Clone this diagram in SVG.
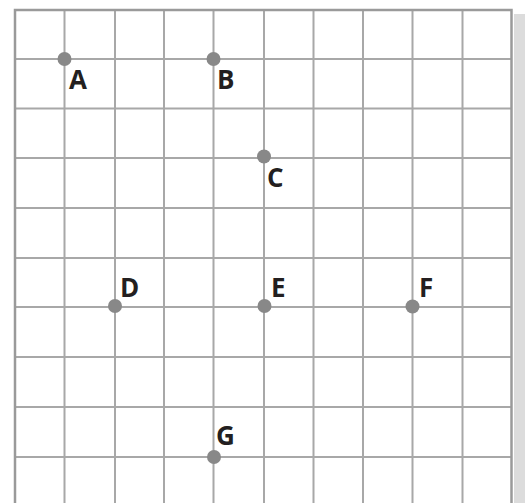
<svg xmlns="http://www.w3.org/2000/svg" width="525" height="503" viewBox="0 0 525 503">
<style>
.g{stroke:#a8a8a8;stroke-width:2;fill:none}
.b{stroke:#9a9a9a;stroke-width:2.5;fill:none}
.dot{fill:#888888}
.lbl{font-family:"Open Sans","Liberation Sans",sans-serif;font-weight:bold;font-size:26px;fill:#231f20}
</style>
<rect x="0" y="0" width="525" height="503" fill="#ffffff"/>
<rect x="514" y="14" width="11" height="489" fill="#dcdcdc"/>
<g id="grid">
<path class="g" d="M64.5 10V503M115 10V503M164 10V503M213.5 10V503M264 10V503M313.5 10V503M363 10V503M412.5 10V503M462.5 10V503"/>
<path class="g" d="M15 59H511.5M15 108.5H511.5M15 158H511.5M15 208H511.5M15 258H511.5M15 307H511.5M15 357H511.5M15 407H511.5M15 457H511.5"/>
<path class="b" d="M15 503V10H511.5V503"/>
</g>
<g id="A"><circle class="dot" cx="64.5" cy="59" r="7"/><text class="lbl" x="69" y="89">A</text></g>
<g id="B"><circle class="dot" cx="213.5" cy="59" r="7"/><text class="lbl" x="217" y="89">B</text></g>
<g id="C"><circle class="dot" cx="264" cy="156.5" r="7"/><text class="lbl" x="267" y="187">C</text></g>
<g id="D"><circle class="dot" cx="115" cy="306" r="7"/><text class="lbl" x="120" y="297">D</text></g>
<g id="E"><circle class="dot" cx="264.5" cy="306" r="7"/><text class="lbl" x="271" y="297">E</text></g>
<g id="F"><circle class="dot" cx="412.5" cy="306.5" r="7"/><text class="lbl" x="419" y="297">F</text></g>
<g id="G"><circle class="dot" cx="214" cy="457" r="7"/><text class="lbl" x="216" y="445">G</text></g>
<g id="connectors"></g>
</svg>
